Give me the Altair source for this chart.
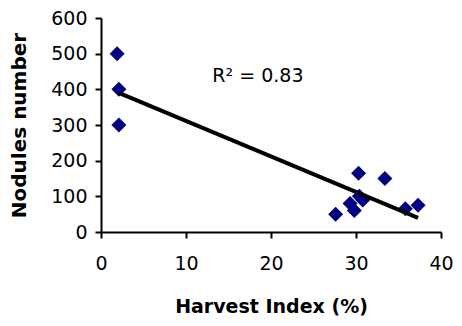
import altair as alt
import pandas as pd

harvest_index = [1.9, 2.1, 2.1, 27.6, 30.3, 33.4, 29.3, 29.8, 30.4, 30.8, 35.8, 37.3]
nodules = [500, 400, 300, 50, 165, 150, 80, 60, 100, 90, 65, 75]
x_ticks = [0, 10, 20, 30, 40]
y_ticks = [0, 100, 200, 300, 400, 500, 600]
r2_label = ["R\u00b2 = 0.83"]
r2_pos_x = [13.1]
r2_pos_y = [420]

df = pd.DataFrame({"hi": harvest_index, "nod": nodules})
lab = pd.DataFrame({"x": r2_pos_x, "y": r2_pos_y, "t": r2_label})

FONT = "DejaVu Sans"

xs = alt.Scale(domain=[0, 40], nice=False, zero=False)
ys = alt.Scale(domain=[0, 600], nice=False, zero=False)

x_axis = alt.Axis(values=x_ticks, grid=False, domainColor="black", domainWidth=2,
                  tickColor="black", tickWidth=2, tickSize=6, labelPadding=16,
                  labelFlush=False, labelOverlap=False,
                  labelFont=FONT, labelFontSize=19, labelColor="black",
                  titleFont=FONT, titleFontSize=19, titleFontWeight="bold",
                  titleColor="black", titlePadding=24)
y_axis = alt.Axis(values=y_ticks, grid=False, domainColor="black", domainWidth=2,
                  tickColor="black", tickWidth=2, tickSize=6, labelPadding=8,
                  labelFlush=False, labelOverlap=False,
                  labelFont=FONT, labelFontSize=19, labelColor="black",
                  titleFont=FONT, titleFontSize=20, titleFontWeight="bold",
                  titleColor="black", titlePadding=21)

X = alt.X("hi:Q", scale=xs, axis=x_axis, title="Harvest Index (%)")
Y = alt.Y("nod:Q", scale=ys, axis=y_axis, title="Nodules number")

points = alt.Chart(df).mark_point(shape="diamond", filled=True, size=225,
                                  color="#000080", opacity=1).encode(x=X, y=Y)

trend = alt.Chart(df).transform_regression(
    "hi", "nod", extent=[2.1, 37.3]
).mark_line(color="black", strokeWidth=4).encode(x=X, y=Y)

text = alt.Chart(lab).mark_text(align="left", baseline="alphabetic", font=FONT,
                                fontSize=19, color="black").encode(
    x=alt.X("x:Q", scale=xs, axis=x_axis, title="Harvest Index (%)"),
    y=alt.Y("y:Q", scale=ys, axis=y_axis, title="Nodules number"),
    text="t:N",
)

chart = alt.layer(points, trend, text).properties(
    width=340, height=214,
    autosize=alt.AutoSizeParams(type="none"),
    padding={"left": 93, "top": 10, "right": 13, "bottom": 86},
    background="white",
).configure_view(stroke=None)

chart.save("out.html", embed_options={"renderer": "svg", "actions": False})
